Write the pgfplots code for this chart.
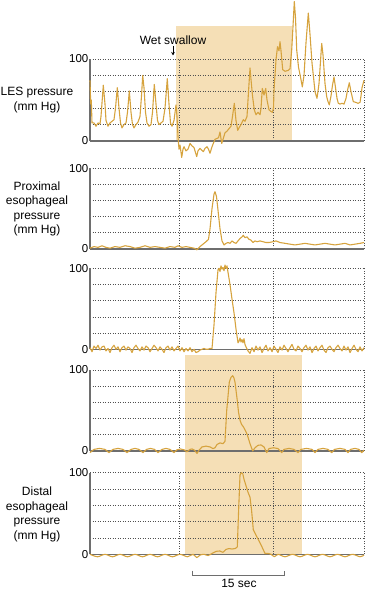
\documentclass[border=0pt]{standalone}
\usepackage{fontspec}
\setmainfont{Liberation Sans}
\usepackage{pgfplots}
\pgfplotsset{compat=1.18}
\usetikzlibrary{arrows.meta}
\definecolor{trace}{RGB}{214,163,62}
\definecolor{shadecol}{RGB}{245,223,182}
\definecolor{gridc}{RGB}{80,80,80}
\definecolor{axc}{RGB}{110,110,110}
\pgfplotsset{
 panel/.style={
  anchor=south west, scale only axis, width=274bp,
  xmin=0,xmax=274,ymin=0,ymax=100, clip=false,
  axis x line*=bottom, axis y line*=left,
  axis line style={axc, line width=1.1bp, -},
  xtick={89,183,274}, xticklabels={},
  ytick={0,100}, yticklabels={0,100},
  minor ytick={20,40,60,80},
  grid=both,
  major grid style={gridc, line width=0.7bp, dash pattern=on 1bp off 1.5bp},
  minor grid style={gridc, line width=0.7bp, dash pattern=on 1bp off 1.5bp},
  major tick length=0pt, minor tick length=0pt,
  tick style={draw=none},
  /pgf/number format/assume math mode=true,
  yticklabel style={font=\fontsize{11.5bp}{12bp}\selectfont, inner sep=1.5bp},
  set layers,
 },
 tr/.style={trace, line width=1.1bp, mark=none, line join=round},
}
\begin{document}
\begin{tikzpicture}[x=1bp,y=1bp]

% Panel 1: LES pressure
\begin{axis}[panel, at={(90bp,450bp)}, height=82bp]
\begin{pgfonlayer}{axis background}
\fill[fill=shadecol] (axis cs:86,0) rectangle (axis cs:202,140.2);
\end{pgfonlayer}
\addplot[tr] coordinates {
(0,74)(0.7,45)(1.3,50)(2,22)(4,22)(6,18)(8,22)(10,21)(11,30)(13.3,68)(15,45)(16,25)(18,18)(20,22)(22,24)(24,26)(25.5,40)(27.3,65)(29,40)(30.5,22)(32,16)(34,20)(36,22)(37.5,35)(39.3,61)(41,35)(42.5,20)(44,16)(46,20)(48,23)(50,30)(51.5,55)(52.7,80)(54,65)(55.5,35)(57,22)(59,18)(61,20)(62.5,35)(64.3,69)(66,45)(67.5,25)(69,20)(71,22)(73,24)(75,40)(77.3,76)(79,45)(80.5,22)(82,18)(84,25)(86,44)(87,30)(88,5)(89,-10)(90,-5)(91.7,-20)(93,-10)(94,-7)(96,-12)(98,-10)(100,-3)(102,-6)(104,-8)(106.7,-19)(108,-12)(110,-9)(111.5,-11)(113.3,-13)(115,-9)(117,-7)(118.5,-10)(120,-15)(122,-7)(123.3,-3)(125,2)(126.7,3)(128.5,4)(130,11)(131.7,-3)(133,2)(135,10)(137,12)(139,15)(141,18)(142.5,30)(144.3,46)(146,25)(147.7,13)(149,16)(151,20)(153.3,26)(155,24)(157,30)(158.5,60)(160,89)(161,75)(162.5,55)(164.3,38)(166,32)(168,35)(170,32)(171,40)(172.3,64)(174,56)(175.7,64)(177,50)(179,38)(181,36)(182.3,35)(183.5,40)(184,62)(186,99)(187.5,115)(189,110)(190,121)(191,110)(192.7,87)(195,85)(198,86)(200,88)(201.7,111)(203,140)(204.3,170)(205.5,150)(206.7,111)(208.5,90)(210.5,78)(212.3,66)(214,80)(216,120)(218.3,156)(220,130)(222,95)(223.5,78)(225,60)(227,52)(229,70)(231.7,119)(233,105)(235,70)(236.7,54)(238,48)(239.3,44)(241,55)(242.5,68)(244,78)(245.5,65)(247,52)(248.3,46)(250,45)(252,46)(254,45)(256,52)(257.5,62)(259.3,71)(261,60)(263.3,48)(266,47)(268,46)(270,47)(271,55)(272,65)(274,74)
};
\end{axis}

% Panel 2: proximal
\begin{axis}[panel, at={(90bp,342bp)}, height=80.7bp]
\addplot[tr] coordinates {
(0,1)(4,3)(8,2)(12,4)(16,2)(20,1)(25,3)(30,2)(35,4)(40,3)(45,1)(50,2)(55,4)(60,2)(65,3)(70,2)(75,1)(80,3)(85,2)(88,4)(92,2)(96,3)(100,2)(104,1)(107,-1)(110,3)(113,6)(116,9)(118.5,12)(120,25)(122,50)(124,68)(125,71)(126.5,65)(128,48)(130,25)(132,10)(134,5)(136,7)(138,8)(140,7)(142,10)(144,8)(146,7)(148,10)(150,13)(152,15)(153.3,17)(155,14)(157,15)(159,12)(161,11)(163,8)(165,10)(167,9)(170,10)(173,9)(176,8)(179,8)(183,9)(186,10)(190,8)(195,7)(200,6)(205,5)(210,6)(215,7)(220,6)(225,5)(230,6)(235,7)(240,6)(245,5)(250,6)(255,7)(260,5)(265,6)(270,7)(274,8)
};
\end{axis}

% Panel 3
\begin{axis}[panel, at={(90bp,241.7bp)}, height=81bp]
\addplot[tr] coordinates {
(0,2)(2,-3)(4,4)(6,1)(8,5)(10,-1)(12,3)(14,4)(16,-2)(18,1)(20,-4)(22,2)(24,5)(26,0)(28,3)(30,-3)(32,2)(34,4)(36,-1)(38,3)(40,1)(42,-4)(44,2)(46,5)(48,1)(50,-2)(52,3)(54,-1)(56,4)(58,2)(60,-3)(62,1)(64,5)(66,2)(68,-2)(70,3)(72,0)(74,-4)(76,2)(78,4)(80,-1)(82,3)(84,-2)(86,1)(88,4)(90,-2)(92,2)(94,-3)(96,1)(98,-2)(100,2)(102,-3)(104,0)(106,-4)(108,-3)(110,-1)(112,0)(114,1)(116,0)(118,0)(120,1)(122,1)(124,30)(126,70)(128,98)(129,100)(130,96)(131,103)(132,99)(133,101)(134,97)(135,104)(136,100)(137,103)(138,95)(140,80)(142,62)(144,45)(146,25)(148,8)(149,10)(150,14)(151,9)(152,12)(153,8)(154,13)(155,6)(156,3)(158,-2)(160,-5)(162,2)(164,-3)(166,4)(168,-1)(170,3)(172,-4)(174,1)(176,5)(178,-2)(180,2)(182,-3)(184,4)(186,0)(188,-4)(190,3)(192,-1)(194,5)(196,1)(198,-3)(200,2)(202,6)(204,0)(206,-2)(208,4)(210,1)(212,-3)(214,2)(216,5)(218,-1)(220,3)(222,-4)(224,1)(226,4)(228,-2)(230,2)(232,5)(234,-1)(236,-4)(238,2)(240,4)(242,0)(244,-3)(246,2)(248,5)(250,1)(252,-2)(254,4)(256,-1)(258,3)(260,-4)(262,1)(264,5)(266,0)(268,-3)(270,3)(272,-2)(274,2)
};
\end{axis}

% Panel 4
\begin{axis}[panel, at={(90bp,140bp)}, height=81bp]
\begin{pgfonlayer}{axis background}
\fill[fill=shadecol] (axis cs:95,-127.5) rectangle (axis cs:212,118.5);
\end{pgfonlayer}
\addplot[tr] coordinates {
(0,-2)(4,2)(9.5,3.2)(15,2)(19,-2)(23,2)(28,3.2)(33,2)(37,-2)(41,2)(45,3.2)(49,2)(53,-2)(56.5,2)(60.5,3.2)(64.5,2)(68,-2)(72,2)(76,3.2)(80,2)(84,-2)(87,1.5)(90.5,2.5)(94,1.5)(97,-1)(100,2)(102,2.5)(104.5,1)(107,-3)(109,1)(112,5)(116,6)(120,5)(123,3)(125,4)(127,8)(130,10)(133,9)(135,12)(136.7,50)(139.3,85)(141,91)(142.7,93)(144,90)(145,85)(146,75)(147.3,62)(148.5,48)(150,38)(151.5,33)(153.3,30)(155.5,25)(157.3,20)(160,9)(162.7,0)(165,4)(168,7)(171,7.5)(174,5)(176.7,-2)(179,3)(183.5,4)(188,3)(191.7,-2)(194,2)(199,3.2)(204,2)(208,-2)(211,2)(216.5,3.2)(222,2)(225,-2)(228,2)(233,3.2)(238,2)(241.7,-2)(244.5,2)(250,3.2)(255,2)(258,-2)(260.5,2)(265,3.2)(269,2)(271.7,-2)(274,1)
};
\end{axis}

% Panel 5: distal
\begin{axis}[panel, at={(90bp,36.7bp)}, height=81.6bp]
\addplot[tr, smooth] coordinates {
(0,0)(7.5,-3)(15,0)(22.5,-3)(30,0)(37.5,-3)(45,0)(52.5,-3)(60,0)(67.5,-3)(75,0)(82.5,-3)(90,0)(97.5,-3)(103,0)(106.7,-4)(110,-1)(114,0)(118,-1.5)(122,1)(126,3.5)(130,4)(133,2.5)(136,6)(139,7)(142,6.5)(145,7)(147.3,9)
};
\addplot[tr] coordinates {
(147.3,9)(148.5,50)(150,97)(151.2,100)(152.7,99)(154,92)(156,84)(158,76)(160,70)(161.5,55)(163.3,30)(165,26)(168.3,18)(170,14)(172,9)(175,1)(178,1)
};
\addplot[tr, smooth] coordinates {
(178,1)(181,0)(184.5,-3)(188,0)(195,-3)(202.5,0)(210,-3)(217.5,0)(225,-3)(232.5,0)(240,-3)(247.5,0)(255,-3)(262.5,0)(270,-3)(274,-1)
};
\end{axis}

% Labels
\begin{scope}[every node/.style={font=\fontsize{12bp}{14.5bp}\selectfont, align=center}]
\node at (37,490.7) {LES pressure\\(mm Hg)};
\node at (37,382.3) {Proximal\\esophageal\\pressure\\(mm Hg)};
\node at (37,76.8) {Distal\\esophageal\\pressure\\(mm Hg)};
\node at (173,551) {Wet swallow};
\node at (239,7.7) {15 sec};
\end{scope}
\draw[line width=0.9bp, -{Stealth[length=3.5bp,width=3.5bp]}] (173,545) -- (173,535.5);
\draw[axc, line width=1bp] (192.3,20.3) -- (192.3,15.5) -- (284,15.5) -- (284,20.3);
\pgfresetboundingbox
\path[use as bounding box] (0,0) rectangle (368,591);
\end{tikzpicture}
\end{document}
